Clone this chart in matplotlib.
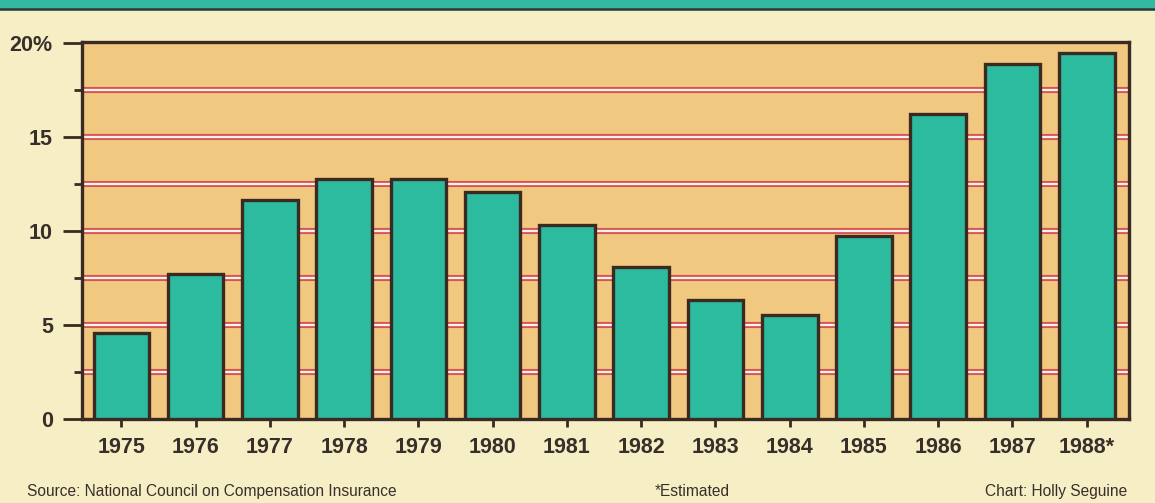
import matplotlib
matplotlib.use("Agg")
import matplotlib.pyplot as plt
import numpy as np

years = ["1975", "1976", "1977", "1978", "1979", "1980", "1981",
         "1982", "1983", "1984", "1985", "1986", "1987", "1988*"]
values = [4.6, 7.7, 11.65, 12.77, 12.77, 12.05, 10.3,
          8.1, 6.33, 5.55, 9.75, 16.2, 18.9, 19.45]
ytick_vals = [0, 5, 10, 15, 20]
ytick_labels = ["0", "5", "10", "15", "20%"]
grid_vals = [2.5, 5, 7.5, 10, 12.5, 15, 17.5]

CREAM = "#f6efc6"
PLOT_BG = "#f1c87f"
TEAL = "#2dbba0"
DARK = "#3b2a22"
RED = "#d2404c"

fig = plt.figure(figsize=(11.55, 5.03), dpi=100, facecolor=CREAM)

# top teal band
band = fig.add_axes([0, 0.982, 1, 0.018])
band.set_axis_off()
band.add_patch(plt.Rectangle((0, 0), 1, 1, transform=band.transAxes,
                             color="#33b9a2", clip_on=False))
fig.add_artist(plt.Line2D([0, 1], [0.982, 0.982], transform=fig.transFigure,
                          color="#2b3a38", lw=1.8))

ax = fig.add_axes([0.071, 0.167, 0.9065, 0.7495])
ax.set_facecolor(PLOT_BG)

x = np.arange(len(years))
for g in grid_vals:
    ax.axhline(g, color=RED, lw=4.4, alpha=0.85, zorder=1)
    ax.axhline(g, color="#fdf3ee", lw=1.6, zorder=1.5)

ax.bar(x, values, width=0.75, color=TEAL, edgecolor=DARK, linewidth=2.4, zorder=3)

ax.set_xlim(-0.53, 13.57)
ax.set_ylim(0, 20.05)

ax.set_yticks(ytick_vals)
ax.set_yticklabels(ytick_labels)
ax.set_yticks(grid_vals, minor=True)
ax.set_xticks(x)
ax.set_xticklabels(years)

for lab in ax.get_xticklabels() + ax.get_yticklabels():
    lab.set_fontfamily("Liberation Sans")
    lab.set_fontweight("bold")
    lab.set_fontsize(15.5)
    lab.set_color("#3a2e2a")

ax.tick_params(axis="y", which="major", direction="out", length=14, width=2.0,
               color=DARK, pad=7)
ax.tick_params(axis="y", which="minor", direction="out", length=6, width=2.0,
               color=DARK)
ax.tick_params(axis="x", which="major", direction="out", length=6, width=2.0,
               color=DARK, pad=7)
ax.tick_params(axis="x", which="minor", length=0)

for s in ax.spines.values():
    s.set_color(DARK)
    s.set_linewidth(2.4)

foot = dict(fontfamily="Liberation Sans", fontsize=11.2, color="#3a2e2a")
fig.text(0.023, 0.022, "Source: National Council on Compensation Insurance",
         ha="left", va="center", **foot)
fig.text(0.599, 0.022, "*Estimated", ha="center", va="center", **foot)
fig.text(0.976, 0.022, "Chart: Holly Seguine", ha="right", va="center", **foot)

fig.savefig("out.png", dpi=100, facecolor=CREAM)
